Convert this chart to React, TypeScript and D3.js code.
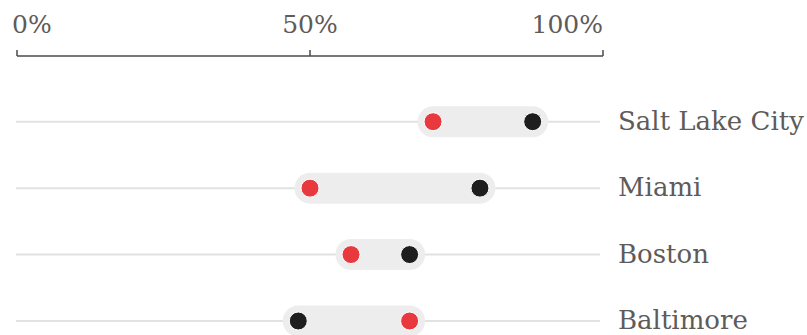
import React from "react";
import * as d3 from "d3";

const cities = ["Salt Lake City", "Miami", "Boston", "Baltimore"];
const redValues = [71, 50, 57, 67];
const blackValues = [88, 79, 67, 48];
const tickValues = [0, 50, 100];

const W = 807;
const H = 335;

export default function App() {
  const x = d3.scaleLinear().domain([0, 100]).range([17, 603]);
  const y = d3.scalePoint<string>().domain(cities).range([121.7, 321]);
  const font = "'DejaVu Serif', serif";
  const textColor = "#5e5b59";
  return (
    <svg
      width={W}
      height={H}
      style={{ position: "absolute", left: 0, top: 0, background: "#fff" }}
    >
      {/* axis */}
      <line x1={x(0)} x2={x(100)} y1={56} y2={56} stroke="#4a4a4a" strokeWidth={1.5} />
      {tickValues.map((t, i) => (
        <g key={t}>
          <line x1={x(t)} x2={x(t)} y1={50} y2={56} stroke="#4a4a4a" strokeWidth={1.5} />
          <text
            x={i === 0 ? x(t) - 5 : x(t)}
            y={33}
            textAnchor={i === 0 ? "start" : i === tickValues.length - 1 ? "end" : "middle"}
            fontFamily={font}
            fontSize={25}
            fill={textColor}
          >
            {t}%
          </text>
        </g>
      ))}
      {cities.map((c, i) => {
        const cy = y(c) as number;
        const lo = Math.min(redValues[i], blackValues[i]);
        const hi = Math.max(redValues[i], blackValues[i]);
        return (
          <g key={c}>
            <line x1={16} x2={600} y1={cy} y2={cy} stroke="#e2e2e2" strokeWidth={2} />
            <rect
              x={x(lo) - 15.5}
              y={cy - 15.5}
              width={x(hi) - x(lo) + 31}
              height={31}
              rx={15.5}
              fill="#ededed"
            />
            <circle cx={x(redValues[i])} cy={cy} r={9} fill="#e8393f" stroke="#fff" strokeWidth={1} />
            <circle cx={x(blackValues[i])} cy={cy} r={9} fill="#1e1e1e" stroke="#fff" strokeWidth={1} />
            <text x={618} y={cy + 8} fontFamily={font} fontSize={26} fill={textColor}>
              {c}
            </text>
          </g>
        );
      })}
    </svg>
  );
}
